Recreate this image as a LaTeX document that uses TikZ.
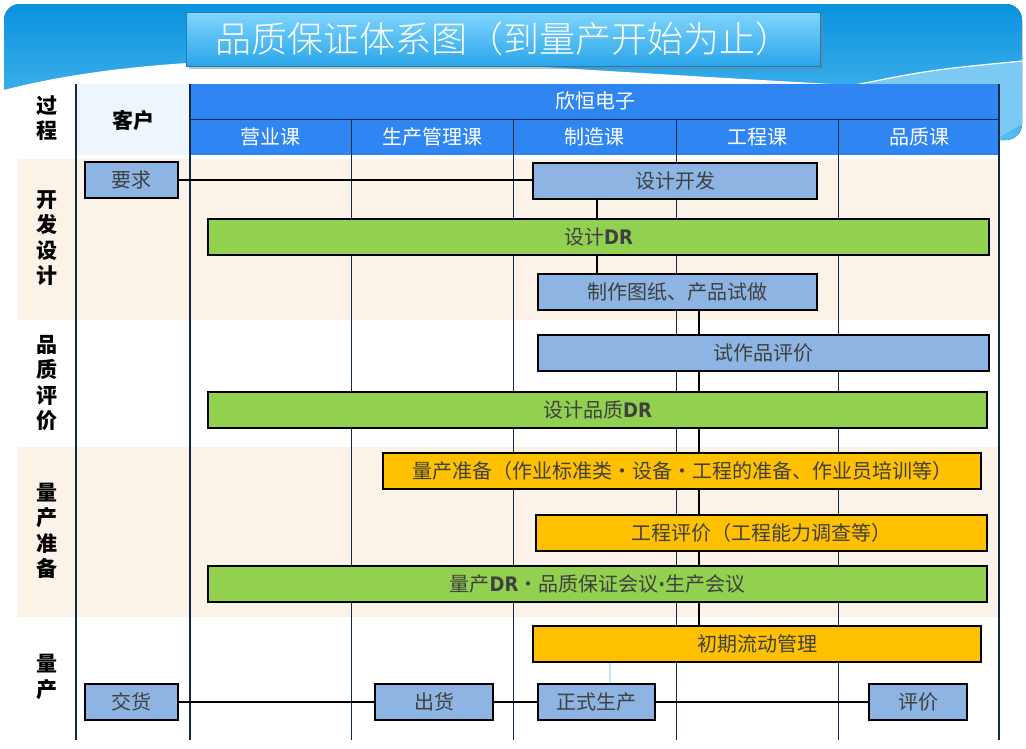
\documentclass[tikz,border=0pt]{standalone}
\usepackage{fontspec}
\setmainfont{Noto Sans CJK SC}
\newfontfamily\drfont{DejaVu Sans Condensed}
\newfontfamily\titlefont{Noto Sans CJK SC Light}
\usetikzlibrary{shadows}

\definecolor{banner top}{HTML}{0A92DF}
\definecolor{banner bottom}{HTML}{55BDF0}
\definecolor{banner light}{HTML}{7CCAF3}
\definecolor{title top}{HTML}{80D5FC}
\definecolor{title bottom}{HTML}{2AA6EA}
\definecolor{title edge}{HTML}{1B7DC0}
\definecolor{head blue}{HTML}{2F85F1}
\definecolor{client bg}{HTML}{EEF6FE}
\definecolor{band beige}{HTML}{FBF3E7}
\definecolor{grid navy}{HTML}{0F2A4A}
\definecolor{box blue}{HTML}{8DB4E2}
\definecolor{dr green}{HTML}{92D050}
\definecolor{prep orange}{HTML}{FFC000}
\definecolor{box text}{HTML}{404040}
\definecolor{faint blue}{HTML}{C5E3F7}

\begin{document}
\begin{tikzpicture}[x=1pt,y=-1pt,
	flow box/.style={draw=black,line width=1.1pt,inner sep=0pt,minimum height=36pt,text=box text,font=\fontsize{20}{20}\selectfont},
	blue box/.style={flow box,fill=box blue},
	green bar/.style={flow box,fill=dr green},
	orange bar/.style={flow box,fill=prep orange},
	side label/.style={align=center,font=\fontsize{21}{25.5}\selectfont\bfseries},
	head label/.style={text=white,font=\fontsize{20}{20}\selectfont},
	grid thick/.style={grid navy,line width=2pt},
	grid thin/.style={grid navy,line width=1pt},
	link/.style={line width=1.6pt}
]

	\def \dr {{\drfont\bfseries DR}}
	\useasboundingbox (0,0) rectangle (1026,748);

	% slide banner
	\fill[top color=banner top,bottom color=banner bottom,rounded corners=16pt] (4,4) rectangle (1022,140);
	\fill[white] (0,96) -- (4,90) .. controls (150,52) and (350,55) .. (560,68) .. controls (720,78) and (800,82) .. (866,86) -- (1000,86) -- (1000,160) -- (0,160) -- cycle;
	\fill[banner light] (850,86) .. controls (930,70) .. (1022,61) -- (1022,124) -- (1000,137) -- (1000,86) -- cycle;
	\draw[white,line width=1.2pt] (850,86) .. controls (930,70) .. (1022,61);

	\node[draw=title edge,line width=1pt,top color=title top,bottom color=title bottom,drop shadow,
		minimum width=634,minimum height=54,inner sep=0pt,text=white,font=\titlefont\fontsize{36}{36}\selectfont] (title) at (503,39) {品质保证体系图（到量产开始为止）};

	% table background
	\fill[client bg] (77,84) rectangle (190,155);
	\fill[head blue] (190,84) rectangle (1000,155);
	\fill[band beige] (18,159) rectangle (1000,320);
	\fill[band beige] (18,447) rectangle (1000,617);

	\draw[grid thick] (76,84) -- (76,740);
	\draw[grid thick] (190,84) -- (190,740);
	\draw[grid thick] (999,84) -- (999,740);
	\draw[grid thin] (190,119) -- (1000,119);
	\foreach \x in {351,513,676,838}
		\draw[grid thin] (\x,119) -- (\x,740);

	% headers
	\node[head label] (company) at (595,101) {欣恒电子};
	\foreach \name/\x [count=\i] in {营业课/270,生产管理课/432,制造课/594,工程课/757,品质课/919}
		\node[head label] (dept\i) at (\x,137) {\name};
	\node[side label] (process) at (47,118) {过\\程};
	\node[side label] (client) at (133,120) {客户};

	\node[side label] (stage1) at (47,238) {开\\发\\设\\计};
	\node[side label] (stage2) at (47,383) {品\\质\\评\\价};
	\node[side label] (stage3) at (47,531) {量\\产\\准\\备};
	\node[side label] (stage4) at (47,677) {量\\产};

	% flow
	\node[blue box,minimum width=93] (request) at (131.5,180) {要求};
	\node[blue box,minimum width=284] (devel) at (675,181) {设计开发};
	\node[green bar,minimum width=781] (designdr) at (598.5,237) {设计\dr};
	\node[blue box,minimum width=279] (drawing) at (677.5,292) {制作图纸、产品试做};
	\node[blue box,minimum width=451] (protoeval) at (763.5,353) {试作品评价};
	\node[green bar,minimum width=779] (qualitydr) at (597.5,410) {设计品质\dr};
	\node[orange bar,minimum width=598] (massprep) at (682,471) {量产准备（作业标准类・设备・工程的准备、作业员培训等）};
	\node[orange bar,minimum width=451] (proceval) at (761.5,533) {工程评价（工程能力调查等）};
	\node[green bar,minimum width=779] (massdr) at (597.5,584) {量产\dr・品质保证会议{\drfont\bfseries ·}生产会议};
	\node[orange bar,minimum width=448] (earlyflow) at (757,644) {初期流动管理};
	\node[blue box,minimum width=93] (delivery) at (131.5,702) {交货};
	\node[blue box,minimum width=118] (shipping) at (434,702) {出货};
	\node[blue box,minimum width=117] (production) at (596.5,702) {正式生产};
	\node[blue box,minimum width=98] (evaluation) at (918,702) {评价};

	\coordinate (spineA) at (597,0);
	\coordinate (spineB) at (699,0);
	\coordinate (spineC) at (610,0);

	\draw[link] (request.east) -- (request.east -| devel.west);
	\draw[link] (devel.south -| spineA) -- (designdr.north -| spineA);
	\draw[link] (designdr.south -| spineA) -- (drawing.north -| spineA);
	\draw[link] (drawing.south -| spineB) -- (protoeval.north -| spineB);
	\draw[link] (protoeval.south -| spineB) -- (qualitydr.north -| spineB);
	\draw[link] (qualitydr.south -| spineB) -- (massprep.north -| spineB);
	\draw[link] (massprep.south -| spineB) -- (proceval.north -| spineB);
	\draw[link] (proceval.south -| spineB) -- (massdr.north -| spineB);
	\draw[link] (massdr.south -| spineB) -- (earlyflow.north -| spineB);
	\draw[link,faint blue] (earlyflow.south -| spineC) -- (production.north -| spineC);
	\draw[link] (delivery) -- (shipping);
	\draw[link] (shipping) -- (production);
	\draw[link] (production) -- (evaluation);
\end{tikzpicture}
\end{document}
